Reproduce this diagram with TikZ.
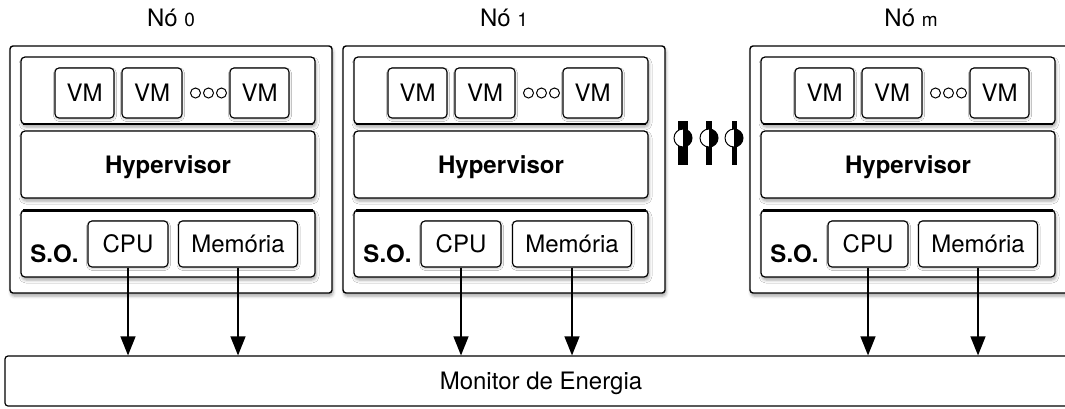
\documentclass[tikz,border=0pt]{standalone}
\usepackage{fontspec}
\setmainfont{TeX Gyre Heros}
\usetikzlibrary{arrows.meta,shadows.blur}

\begin{document}
\begin{tikzpicture}[x=1pt,y=-1pt,font=\fontsize{24}{28}\selectfont]
\tikzstyle{host}=[draw,line width=1.4pt,rounded corners=3pt,fill=white,inner sep=0pt,minimum width=322pt,minimum height=247pt,blur shadow={shadow xshift=1pt,shadow yshift=-3pt,shadow blur radius=3pt,shadow opacity=35}]
\tikzstyle{layer}=[draw,line width=1.2pt,rounded corners=4pt,fill=white,inner sep=0pt,minimum width=294pt,minimum height=67pt,text depth=0pt,blur shadow={shadow xshift=1pt,shadow yshift=-3pt,shadow blur radius=3pt,shadow opacity=35}]
\tikzstyle{unit}=[draw,line width=1.1pt,rounded corners=4pt,fill=white,inner sep=0pt,minimum height=50pt,text depth=0pt,blur shadow={shadow xshift=0.5pt,shadow yshift=-1.5pt,shadow blur radius=2pt,shadow opacity=25}]
\tikzstyle{ring}=[draw,circle,line width=1pt,inner sep=0pt,minimum size=10pt]
\tikzstyle{flow}=[line width=1.3pt,-{Triangle[length=19pt,width=15pt]}]
\useasboundingbox (0,0) rectangle (1065,408);
% no 0
\node [host] (h0) at (171,169.5) {};
\node [layer] (vl0) at (168,90.5) {};
\node [unit,minimum width=59pt] (vma0) at (84.5,93) {VM};
\node [unit,minimum width=60pt] (vmb0) at (152,93) {VM};
\node [ring] (ra0) at (195.5,93) {};
\node [ring] (rb0) at (208.5,93) {};
\node [ring] (rc0) at (221.5,93) {};
\node [unit,minimum width=59pt] (vmc0) at (259.5,93) {VM};
\node [layer,font=\fontsize{24}{28}\selectfont\bfseries] (hy0) at (168,164.5) {Hypervisor};
\node [layer] (so0) at (168,243.5) {};
\node [unit,minimum width=80pt,minimum height=46pt] (cpu0) at (128,244) {CPU};
\node [unit,minimum width=119pt,minimum height=46pt] (mem0) at (238,244) {Memória};
\node [font=\fontsize{24}{28}\selectfont\bfseries,inner sep=0pt] (os0) at (54.5,253.5) {S.O.};
\draw [line width=2pt] ([xshift=3pt,yshift=0.8pt]vl0.south west) -- ([xshift=-3pt,yshift=0.8pt]vl0.south east);
\draw [line width=3pt] ([xshift=3pt,yshift=-1.5pt]so0.north west) -- ([xshift=-3pt,yshift=-1.5pt]so0.north east);
% no 1
\node [host] (h1) at (504,169.5) {};
\node [layer] (vl1) at (501,90.5) {};
\node [unit,minimum width=59pt] (vma1) at (417.5,93) {VM};
\node [unit,minimum width=60pt] (vmb1) at (485,93) {VM};
\node [ring] (ra1) at (528.5,93) {};
\node [ring] (rb1) at (541.5,93) {};
\node [ring] (rc1) at (554.5,93) {};
\node [unit,minimum width=59pt] (vmc1) at (592.5,93) {VM};
\node [layer,font=\fontsize{24}{28}\selectfont\bfseries] (hy1) at (501,164.5) {Hypervisor};
\node [layer] (so1) at (501,243.5) {};
\node [unit,minimum width=80pt,minimum height=46pt] (cpu1) at (461,244) {CPU};
\node [unit,minimum width=119pt,minimum height=46pt] (mem1) at (572,244) {Memória};
\node [font=\fontsize{24}{28}\selectfont\bfseries,inner sep=0pt] (os1) at (387.5,253.5) {S.O.};
\draw [line width=2pt] ([xshift=3pt,yshift=0.8pt]vl1.south west) -- ([xshift=-3pt,yshift=0.8pt]vl1.south east);
\draw [line width=3pt] ([xshift=3pt,yshift=-1.5pt]so1.north west) -- ([xshift=-3pt,yshift=-1.5pt]so1.north east);
% no m
\node [host] (hm) at (911,169.5) {};
\node [layer] (vlm) at (908,90.5) {};
\node [unit,minimum width=59pt] (vmam) at (824.5,93) {VM};
\node [unit,minimum width=60pt] (vmbm) at (892,93) {VM};
\node [ring] (ram) at (935.5,93) {};
\node [ring] (rbm) at (948.5,93) {};
\node [ring] (rcm) at (961.5,93) {};
\node [unit,minimum width=59pt] (vmcm) at (999.5,93) {VM};
\node [layer,font=\fontsize{24}{28}\selectfont\bfseries] (hym) at (908,164.5) {Hypervisor};
\node [layer] (som) at (908,243.5) {};
\node [unit,minimum width=80pt,minimum height=46pt] (cpum) at (868,244) {CPU};
\node [unit,minimum width=119pt,minimum height=46pt] (memm) at (978,244) {Memória};
\node [font=\fontsize{24}{28}\selectfont\bfseries,inner sep=0pt] (osm) at (794.5,253.5) {S.O.};
\draw [line width=2pt] ([xshift=3pt,yshift=0.8pt]vlm.south west) -- ([xshift=-3pt,yshift=0.8pt]vlm.south east);
\draw [line width=3pt] ([xshift=3pt,yshift=-1.5pt]som.north west) -- ([xshift=-3pt,yshift=-1.5pt]som.north east);
% dots between the hosts
\fill (678,121) rectangle (688,165);
\fill (706,121) rectangle (712,165);
\fill (731.5,121) rectangle (736.5,165);
\fill [white] (683,138) circle (9);
\fill [white] (709,138) circle (9);
\fill [white] (734,138) circle (9);
\fill (683,129) arc [start angle=-90,end angle=90,radius=9] -- cycle;
\fill (709,129) arc [start angle=-90,end angle=90,radius=9] -- cycle;
\fill (734,129) arc [start angle=-90,end angle=90,radius=9] -- cycle;
\draw [line width=1pt] (683,138) circle (9);
\draw [line width=1pt] (709,138) circle (9);
\draw [line width=1pt] (734,138) circle (9);
% monitor
\node [draw,line width=1.2pt,rounded corners=3pt,inner sep=0pt,minimum width=1072pt,minimum height=50pt,text depth=0pt] (mon) at (541,381) {Monitor de Energia};
\draw [flow] (cpu0) -- (cpu0 |- mon.north);
\draw [flow] (mem0) -- (mem0 |- mon.north);
\draw [flow] (cpu1) -- (cpu1 |- mon.north);
\draw [flow] (mem1) -- (mem1 |- mon.north);
\draw [flow] (cpum) -- (cpum |- mon.north);
\draw [flow] (memm) -- (memm |- mon.north);
\path (h0.north) node [above=18pt,inner sep=0pt] {Nó {\fontsize{19}{22}\selectfont 0}};
\path (h1.north) node [above=18pt,inner sep=0pt] {Nó {\fontsize{19}{22}\selectfont 1}};
\path (hm.north) node [above=18pt,inner sep=0pt] {Nó {\fontsize{19}{22}\selectfont m}};
\end{tikzpicture}
\end{document}
